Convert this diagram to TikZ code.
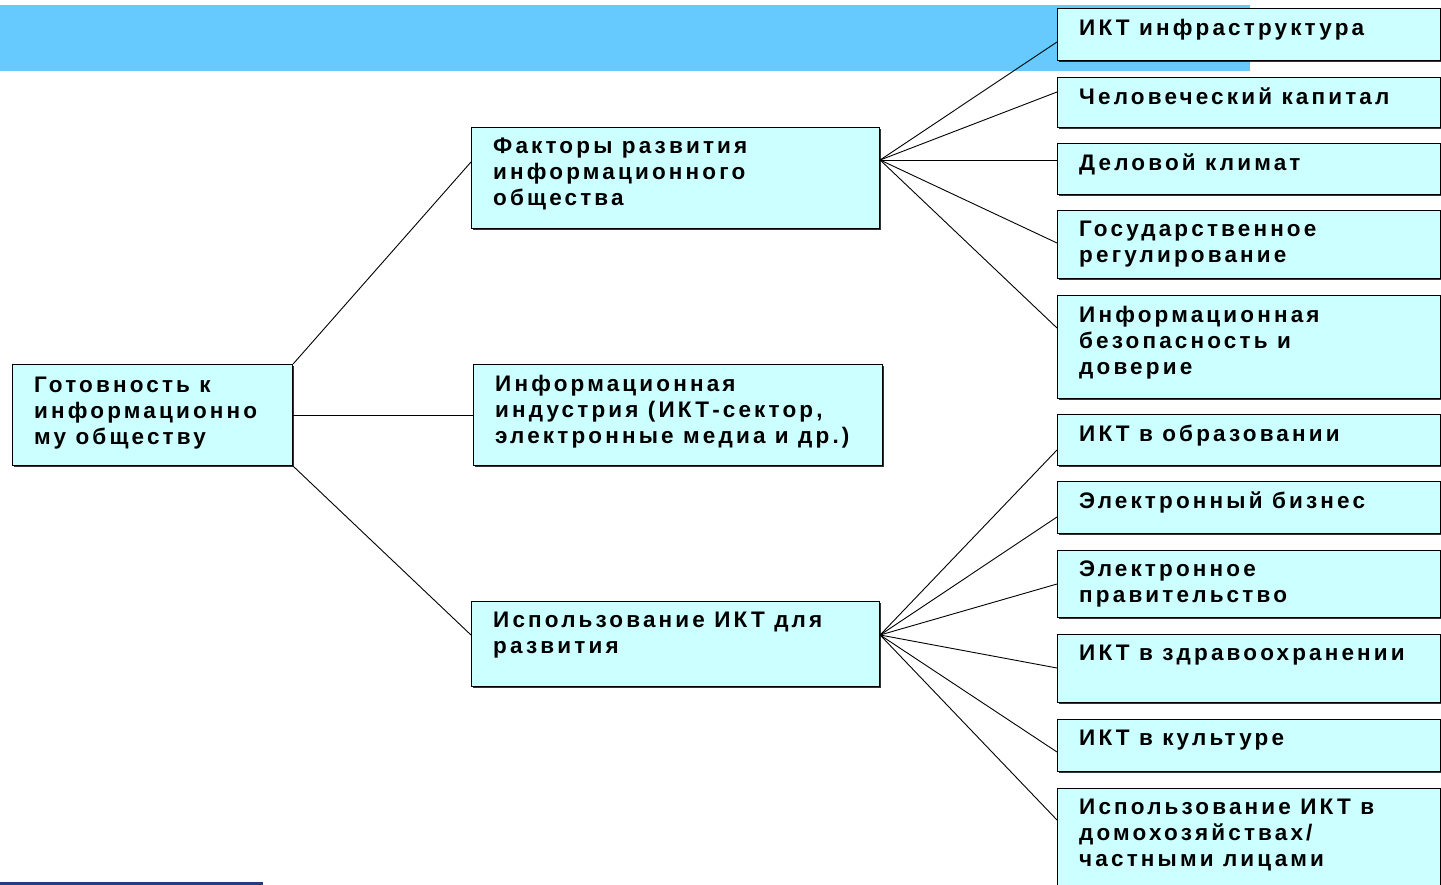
\documentclass[tikz,border=0pt]{standalone}
\usepackage{fontspec}
\setmainfont{Liberation Sans}
\newfontfamily\boxfont[LetterSpace=14]{Liberation Sans Bold}
\usetikzlibrary{calc, shadows}
\definecolor{bandblue}{HTML}{66CAFF}
\definecolor{boxcyan}{HTML}{CCFFFF}
\definecolor{rulenavy}{HTML}{213F7F}
\tikzstyle{bx}=[draw=black, line width=1.1pt, fill=boxcyan, anchor=north west, inner sep=0,
  drop shadow={shadow xshift=1.2pt, shadow yshift=-1.2pt, opacity=.8, fill=black}]
\tikzstyle{lbl}=[anchor=north west, inner sep=0, xshift=22pt, yshift=-11pt, align=left,
  font=\boxfont\fontsize{22.5}{26}\selectfont]
\tikzstyle{ln}=[line width=.9pt]

\begin{document}
\begin{tikzpicture}[x=1pt, y=-1pt]
\useasboundingbox (0,0) rectangle (1441,885);
\fill[bandblue] (0,5) rectangle (1250,71);
\fill[rulenavy] (0,882) rectangle (263,885);
% left and middle column
\node at (12,364)[bx, minimum width=280, minimum height=101,
  label={[lbl, yshift=-2pt]north west:{Готовность к\\информационно\\му обществу}}](root){};
\node at (471,127)[bx, minimum width=408, minimum height=101,
  label={[lbl]north west:{Факторы развития\\информационного\\общества}}](fact){};
\node at (473,364)[bx, minimum width=409, minimum height=101,
  label={[lbl]north west:{Информационная\\индустрия (ИКТ-сектор,\\электронные медиа и др.)}}](ind){};
\node at (471,601)[bx, minimum width=408, minimum height=85,
  label={[lbl]north west:{Использование ИКТ для\\развития}}](use){};
% right column
\node at (1057,8)[bx, minimum width=383, minimum height=52,
  label={[lbl]north west:{ИКТ инфраструктура}}](r1){};
\node at (1057,77)[bx, minimum width=383, minimum height=50,
  label={[lbl]north west:{Человеческий капитал}}](r2){};
\node at (1057,143)[bx, minimum width=383, minimum height=51,
  label={[lbl]north west:{Деловой климат}}](r3){};
\node at (1057,210)[bx, minimum width=383, minimum height=68,
  label={[lbl]north west:{Государственное\\регулирование}}](r4){};
\node at (1057,295)[bx, minimum width=383, minimum height=103,
  label={[lbl]north west:{Информационная\\безопасность и\\доверие}}](r5){};
\node at (1057,414)[bx, minimum width=383, minimum height=51,
  label={[lbl]north west:{ИКТ в образовании}}](r6){};
\node at (1057,481)[bx, minimum width=383, minimum height=52,
  label={[lbl]north west:{Электронный бизнес}}](r7){};
\node at (1057,550)[bx, minimum width=383, minimum height=67,
  label={[lbl]north west:{Электронное\\правительство}}](r8){};
\node at (1057,634)[bx, minimum width=383, minimum height=68,
  label={[lbl]north west:{ИКТ в здравоохранении}}](r9){};
\node at (1057,719)[bx, minimum width=383, minimum height=52,
  label={[lbl]north west:{ИКТ в культуре}}](r10){};
\node at (1057,788)[bx, minimum width=383, minimum height=105,
  label={[lbl]north west:{Использование ИКТ в\\домохозяйствах/\\частными лицами}}](r11){};
% connectors
\draw[ln] (root.north east)--($(fact.north west)+(0,35)$);
\draw[ln] (root.east)--(ind.west);
\draw[ln] (root.south east)--($(use.north west)+(0,34)$);
\coordinate (fo) at ($(fact.north east)+(0,33)$);
\coordinate (uo) at ($(use.north east)+(0,34)$);
\foreach \r/\d in {r1/34, r2/15, r3/17, r4/33, r5/33} {\draw[ln] (fo)--($(\r.north west)+(0,\d)$);}
\foreach \r/\d in {r6/36, r7/36, r8/34, r9/34, r10/33, r11/32} {\draw[ln] (uo)--($(\r.north west)+(0,\d)$);}
\end{tikzpicture}
\end{document}
